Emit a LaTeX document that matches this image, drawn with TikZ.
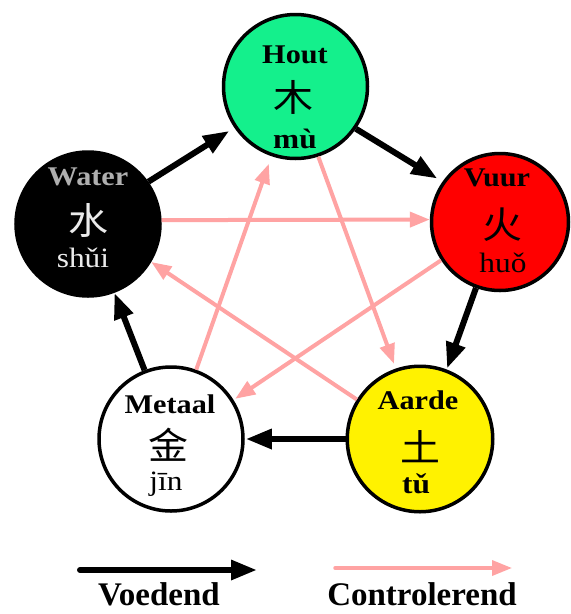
\documentclass[tikz,border=0pt]{standalone}
\usepackage{fontspec}
\setmainfont{Liberation Serif}[FakeStretch=1.12]
\newfontfamily\legendfont{Liberation Serif}
\newfontfamily\cjk{Noto Sans CJK SC}[FakeStretch=1.08]
\usetikzlibrary{arrows.meta}
\definecolor{houtgreen}{RGB}{20,240,140}
\definecolor{pinkline}{RGB}{255,163,163}
\definecolor{watername}{RGB}{175,175,175}
\definecolor{waterlight}{RGB}{235,235,235}
\begin{document}
\begin{tikzpicture}[x=1pt,y=-1pt,
  element/.style={circle, draw=black, line width=3.5pt, inner sep=0pt, minimum size=144pt},
  namelbl/.style={anchor=base, inner sep=0pt, font=\bfseries\fontsize{27}{27}\selectfont},
  cjklbl/.style={inner sep=0pt, font=\cjk\fontsize{37}{37}\selectfont},
  pylbl/.style={anchor=base, inner sep=0pt, font=\fontsize{28}{28}\selectfont},
  legendlbl/.style={anchor=base, inner sep=0pt, font=\legendfont\bfseries\fontsize{33}{33}\selectfont},
  feed/.style={-{Triangle[length=26pt,width=19pt]}, line width=6pt, draw=black},
  ctrl/.style={-{Triangle[length=20pt,width=15pt]}, line width=4pt, draw=pinkline}
]
\useasboundingbox (0,0) rectangle (571,614);

% circles
\node[element, fill=houtgreen] (hout) at (295.5,86.5) {};
\node[element, fill=black] (water) at (88,224) {};
\node[element, fill=red, minimum size=137pt] (vuur) at (500,222) {};
\node[element, fill=white] (metaal) at (171,439) {};
\node[element, fill=yellow, minimum size=145.5pt] (aarde) at (420,439) {};

% texts
\node[namelbl] (houtn) at (295,63) {Hout};
\node[cjklbl] (houtc) at (293,97) {木};
\node[pylbl, font=\bfseries\fontsize{28}{28}\selectfont] (houtp) at (295,148) {mù};

\node[namelbl, text=watername] (watern) at (88,185) {Water};
\node[cjklbl, text=waterlight] (waterc) at (88,220) {水};
\node[pylbl, text=waterlight] (waterp) at (83,267) {shǔi};

\node[namelbl] (vuurn) at (497,186) {Vuur};
\node[cjklbl] (vuurc) at (502,225) {火};
\node[pylbl] (vuurp) at (503,272) {huǒ};

\node[namelbl] (metaaln) at (170,413) {Metaal};
\node[cjklbl] (metaalc) at (168,445) {金};
\node[pylbl] (metaalp) at (166,490) {jīn};

\node[namelbl] (aarden) at (418,409) {Aarde};
\node[cjklbl] (aardec) at (420,447) {土};
\node[pylbl, font=\bfseries\fontsize{28}{28}\selectfont] (aardep) at (416,493) {tǔ};

% controlling arrows
\draw[ctrl] (water.3) -- (vuur.178);
\draw[ctrl, shorten >=8pt] (metaal.70) -- (hout.251);
\draw[ctrl, shorten >=5pt] (hout.288) -- (aarde.109);
\draw[ctrl, shorten >=2pt] (vuur.213) -- (metaal.32);
\draw[ctrl] (aarde.148) -- (water.329);

% feeding arrows
\draw[feed, shorten >=6pt] (water.35) -- (hout.214);
\draw[feed, shorten >=6pt] (hout.325) -- (vuur.145);
\draw[feed, shorten >=1pt] (vuur.250) -- (aarde.69);
\draw[feed, shorten >=1pt] (aarde.180) -- (metaal.0);
\draw[feed] (metaal.111) -- (water.291);

% legend
\coordinate (fa) at (80,570);
\coordinate (fb) at (257,570);
\coordinate (ca) at (335,568);
\coordinate (cb) at (512,568);
\draw[feed, line cap=round] (fa) -- (fb);
\draw[ctrl, line cap=round, line width=3.5pt] (ca) -- (cb);
\node[legendlbl] (voed) at (159,605) {Voedend};
\node[legendlbl] (contr) at (422,605) {Controlerend};
\end{tikzpicture}
\end{document}
